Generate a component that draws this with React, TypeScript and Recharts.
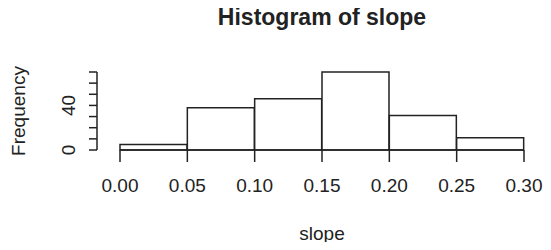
import React from "react";
import { BarChart, Bar, XAxis, YAxis, ReferenceLine } from "recharts";

// histogram bins and counts
const binStarts = [0, 0.05, 0.1, 0.15, 0.2, 0.25];
const counts = [5, 38, 46, 70, 31, 11];
const xTicks = [0, 0.05, 0.1, 0.15, 0.2, 0.25, 0.3];
const yTicks = [0, 10, 20, 30, 40, 50, 60, 70];
const yLabelTicks = [0, 40];

const FONT = '"Liberation Sans", Arial, Helvetica, sans-serif';
const INK = "#222";

const data = binStarts.map((lo, i) => ({
  bin: `${lo.toFixed(2)}-${(lo + 0.05).toFixed(2)}`,
  lo,
  count: counts[i],
}));

const YTick = ({ x, y, payload }: any) => {
  if (!yLabelTicks.includes(payload.value)) return null;
  return (
    <text
      x={x}
      y={y}
      transform={`rotate(-90, ${x}, ${y})`}
      textAnchor="middle"
      dy="0.35em"
      fontSize={19}
      fontFamily={FONT}
      fill={INK}
    >
      {payload.value}
    </text>
  );
};

const YTitle = ({ viewBox }: any) => {
  const cx = viewBox.x + 18;
  const cy = viewBox.y + viewBox.height / 2;
  return (
    <text
      x={cx}
      y={cy}
      transform={`rotate(-90, ${cx}, ${cy})`}
      textAnchor="middle"
      dy="0.35em"
      fontSize={19}
      fontFamily={FONT}
      fill={INK}
    >
      Frequency
    </text>
  );
};

const XTitle = ({ viewBox }: any) => (
  <text
    x={viewBox.x + 23 + (viewBox.width - 23) / 2}
    y={viewBox.y + 90}
    textAnchor="middle"
    fontSize={19}
    fontFamily={FONT}
    fill={INK}
  >
    slope
  </text>
);

export default function App() {
  return (
    <div style={{ position: "relative", width: 551, height: 250, margin: -8, background: "#fff" }}>
      <div
        style={{
          position: "absolute",
          left: 120,
          width: 404,
          top: 6,
          textAlign: "center",
          fontFamily: FONT,
          fontWeight: "bold",
          fontSize: 23,
          lineHeight: 1,
          color: INK,
        }}
      >
        Histogram of slope
      </div>
      <BarChart
        width={551}
        height={250}
        data={data}
        margin={{ top: 72, right: 27, bottom: 40, left: 0 }}
        barCategoryGap={0}
        barGap={0}
      >
        <XAxis
          xAxisId="bins"
          dataKey="bin"
          type="category"
          hide
          height={0}
          orientation="top"
          padding={{ left: 23, right: 0 }}
        />
        <XAxis
          xAxisId="num"
          dataKey="lo"
          type="number"
          domain={[0, 0.3]}
          ticks={xTicks}
          interval={0}
          allowDataOverflow
          padding={{ left: 23, right: 0 }}
          height={60}
          axisLine={false}
          tickSize={12}
          tickMargin={17}
          tickLine={{ stroke: INK, strokeWidth: 1.5 }}
          tick={{ fontSize: 19, fontFamily: FONT, fill: INK }}
          tickFormatter={(v: number) => v.toFixed(2)}
          label={<XTitle />}
        />
        <YAxis
          domain={[0, 70]}
          ticks={yTicks}
          interval={0}
          width={97}
          tickSize={8}
          tickMargin={21}
          axisLine={{ stroke: INK, strokeWidth: 1.5 }}
          tickLine={{ stroke: INK, strokeWidth: 1.5 }}
          tick={<YTick />}
          label={<YTitle />}
        />
        <Bar
          xAxisId="bins"
          dataKey="count"
          fill="#fff"
          stroke={INK}
          strokeWidth={1.5}
          isAnimationActive={false}
        />
        <ReferenceLine
          xAxisId="num"
          segment={[
            { x: 0, y: 0 },
            { x: 0.3, y: 0 },
          ]}
          stroke={INK}
          strokeWidth={1.5}
        />
      </BarChart>
    </div>
  );
}
